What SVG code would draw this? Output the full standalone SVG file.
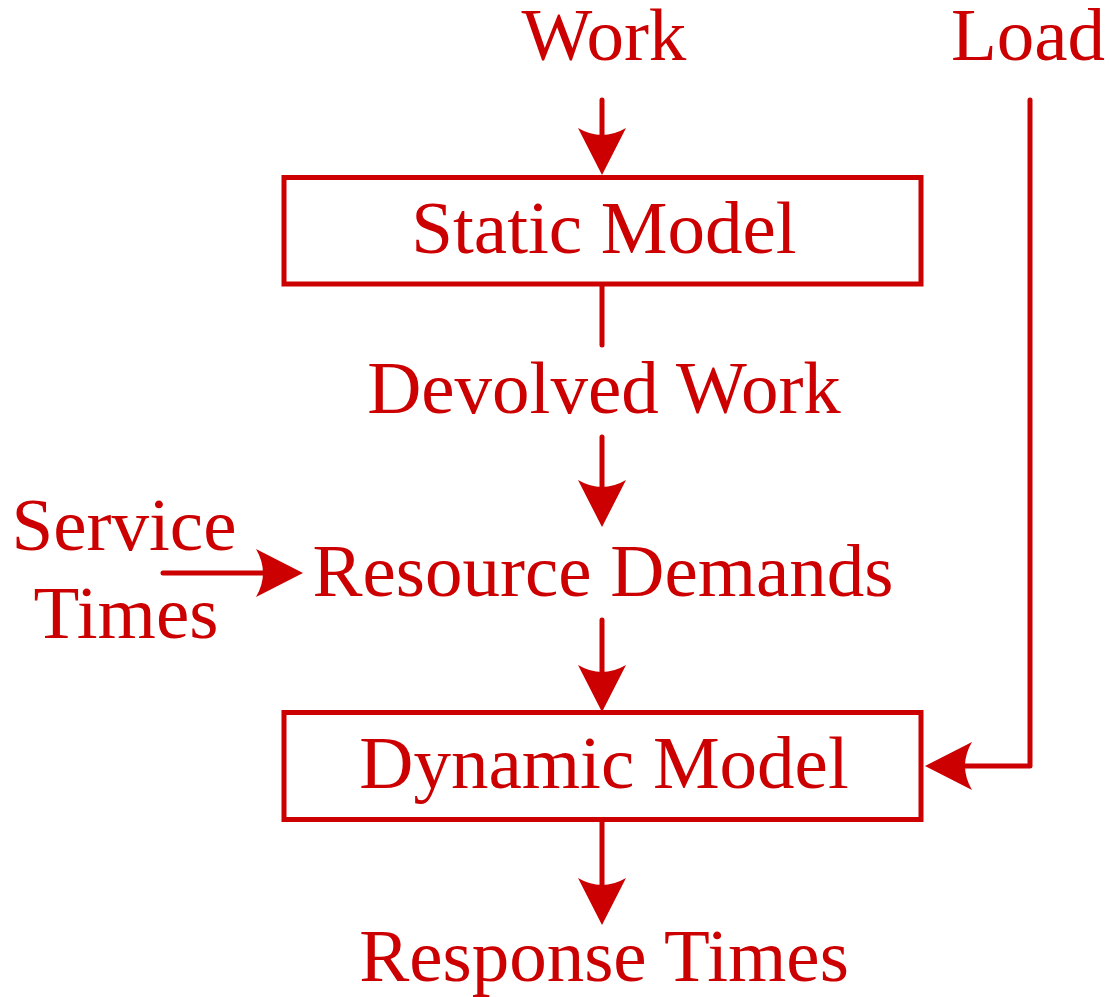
<svg xmlns="http://www.w3.org/2000/svg" width="1110" height="997" viewBox="0 0 1110 997">
<style>
text{font-family:"Liberation Serif","Times New Roman",serif;font-size:75px;fill:#CC0000;text-anchor:middle}
.box{fill:#fff;stroke:#CC0000;stroke-width:5}
.ln{fill:none;stroke:#CC0000;stroke-width:5;stroke-linecap:round;stroke-linejoin:round}
</style>
<defs>
<marker id="ah" markerUnits="userSpaceOnUse" markerWidth="50" markerHeight="50" refX="7" refY="24" orient="auto" overflow="visible">
<path d="M47,24 L0,0 Q14,24 0,48 Z" fill="#CC0000"/>
</marker>
</defs>
<rect width="1110" height="997" fill="#fff"/>
<g id="connectors">
<line class="ln" x1="602" y1="100" x2="602" y2="135" marker-end="url(#ah)"/>
<line class="ln" x1="602" y1="284" x2="602" y2="345"/>
<line class="ln" x1="602" y1="437" x2="602" y2="487" marker-end="url(#ah)"/>
<line class="ln" x1="163" y1="573" x2="263" y2="573" marker-end="url(#ah)"/>
<line class="ln" x1="602" y1="620" x2="602" y2="672" marker-end="url(#ah)"/>
<line class="ln" x1="602" y1="820" x2="602" y2="885" marker-end="url(#ah)"/>
<polyline class="ln" points="1030,100 1030,766 965,766" marker-end="url(#ah)"/>
</g>
<g id="work"><text x="604" y="60">Work</text></g>
<g id="load"><text x="1028" y="60">Load</text></g>
<g id="static-model"><rect class="box" x="284" y="177.5" width="637" height="106.5"/><text x="604" y="253">Static Model</text></g>
<g id="devolved-work"><text x="604" y="413">Devolved Work</text></g>
<g id="service-times"><text x="124" y="550">Service</text><text x="126" y="638">Times</text></g>
<g id="resource-demands"><text x="603" y="596">Resource Demands</text></g>
<g id="dynamic-model"><rect class="box" x="284" y="712.5" width="637" height="107"/><text x="604" y="788">Dynamic Model</text></g>
<g id="response-times"><text x="604" y="981">Response Times</text></g>
</svg>
